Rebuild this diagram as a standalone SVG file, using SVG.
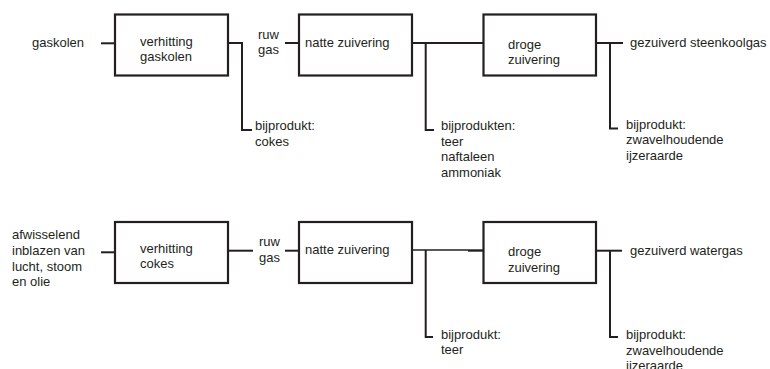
<svg xmlns="http://www.w3.org/2000/svg" width="770" height="369" viewBox="0 0 770 369">
  <style>
    .box { fill: #ffffff; stroke: #231f20; stroke-width: 2.2; }
    .ln { fill: none; stroke: #231f20; stroke-width: 2; stroke-linejoin: miter; stroke-linecap: butt; }
    .thin { fill: none; stroke: #231f20; stroke-width: 1.6; }
    text { font-family: "Liberation Sans", Arial, sans-serif; font-size: 13px; fill: #231f20; }
  </style>
  <rect width="770" height="369" fill="#ffffff"/>

  <!-- Process 1: coal gas -->
  <g id="in-gaskolen"><text x="32" y="47">gaskolen</text></g>
  <g id="verhitting-gaskolen">
    <rect class="box" x="115" y="14.5" width="113" height="61"/>
    <text x="140" y="46">verhitting</text>
    <text x="140" y="61">gaskolen</text>
  </g>
  <g id="ruw-gas-1"><text x="258" y="39">ruw</text><text x="258" y="54">gas</text></g>
  <g id="natte-zuivering-1">
    <rect class="box" x="299" y="14.5" width="113" height="61"/>
    <text x="305" y="47">natte zuivering</text>
  </g>
  <g id="droge-zuivering-1">
    <rect class="box" x="483.5" y="14.5" width="112.5" height="61"/>
    <text x="508" y="49">droge</text>
    <text x="508" y="64">zuivering</text>
  </g>
  <g id="bijprodukt-cokes"><text x="255" y="130">bijprodukt:</text><text x="255" y="145.5">cokes</text></g>
  <g id="bijprodukten-1">
    <text x="441" y="130">bijprodukten:</text>
    <text x="441" y="145.5">teer</text>
    <text x="441" y="161">naftaleen</text>
    <text x="441" y="176.5">ammoniak</text>
  </g>
  <g id="out-steenkoolgas"><text x="630" y="47">gezuiverd steenkoolgas</text></g>
  <g id="bijprodukt-ijzeraarde-1">
    <text x="626" y="128.5">bijprodukt:</text>
    <text x="626" y="144">zwavelhoudende</text>
    <text x="626" y="159.5">ijzeraarde</text>
  </g>

  <!-- Process 2: water gas -->
  <g id="in-afwisselend">
    <text x="12" y="239">afwisselend</text>
    <text x="12" y="255">inblazen van</text>
    <text x="12" y="270.5">lucht, stoom</text>
    <text x="12" y="286">en olie</text>
  </g>
  <g id="verhitting-cokes">
    <rect class="box" x="115" y="222" width="113" height="61"/>
    <text x="140" y="252.5">verhitting</text>
    <text x="140" y="268">cokes</text>
  </g>
  <g id="ruw-gas-2"><text x="259" y="246">ruw</text><text x="259" y="262">gas</text></g>
  <g id="natte-zuivering-2">
    <rect class="box" x="299" y="222" width="113" height="61"/>
    <text x="305" y="253.5">natte zuivering</text>
  </g>
  <g id="droge-zuivering-2">
    <rect class="box" x="483.5" y="222" width="112.5" height="61"/>
    <text x="508" y="256">droge</text>
    <text x="508" y="271.5">zuivering</text>
  </g>
  <g id="bijprodukt-teer"><text x="441" y="338.5">bijprodukt:</text><text x="441" y="354">teer</text></g>
  <g id="out-watergas"><text x="630" y="255">gezuiverd watergas</text></g>
  <g id="bijprodukt-ijzeraarde-2">
    <text x="626" y="339">bijprodukt:</text>
    <text x="626" y="354.5">zwavelhoudende</text>
    <text x="626" y="370">ijzeraarde</text>
  </g>

  <!-- Connectors -->
  <g id="connectors">
    <!-- row 1 -->
    <path class="ln" d="M101,43.3 H115"/>
    <path class="ln" d="M228,43 H242 V130 H252"/>
    <path class="ln" d="M285,43 H299"/>
    <path class="ln" d="M412,43 H483.5"/>
    <path class="ln" d="M425.7,43 V130 H434"/>
    <path class="ln" d="M596,43 H623"/>
    <path class="ln" d="M610,43 V128.5 H618"/>
    <!-- row 2 -->
    <path class="ln" d="M101,252.3 H115"/>
    <path class="ln" d="M228,250.7 H253"/>
    <path class="ln" d="M285,250.7 H299"/>
    <path class="thin" d="M412,250 H468"/>
    <path class="ln" d="M468,250.5 H483.5" style="stroke-width:2.4"/>
    <path class="ln" d="M425.7,250 V337 H433"/>
    <path class="ln" d="M596,250.7 H622"/>
    <path class="ln" d="M610,250.7 V337 H618"/>
  </g>
</svg>
